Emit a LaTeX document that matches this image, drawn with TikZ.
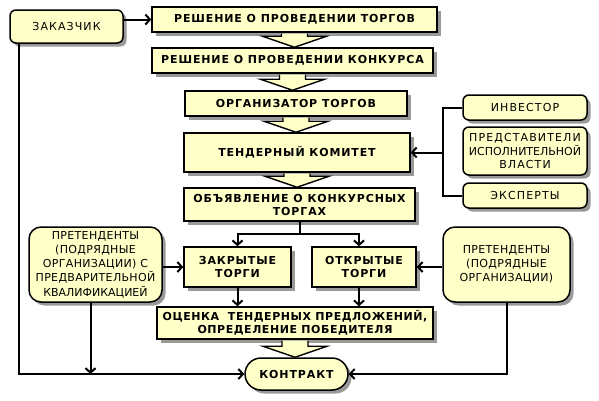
\documentclass[tikz,border=0pt]{standalone}
\usepackage{fontspec}
\setmainfont{DejaVu Sans}
\newfontfamily\nfont[LetterSpace=10]{DejaVu Sans}
\newfontfamily\bfont[LetterSpace=8]{DejaVu Sans}
\newfontfamily\efont[LetterSpace=5]{DejaVu Sans}
\newfontfamily\pfont[LetterSpace=3]{DejaVu Sans}
\newfontfamily\tfont{DejaVu Sans}
\usetikzlibrary{arrows.meta,shadows,calc}
\definecolor{boxfill}{RGB}{255,255,200}
\newcommand\blkarrow[2]{%
  \path[blk] let \p1=(#1.south), \p2=(#2.north) in
    (\x1-13pt,\y1-0.8pt) -- (\x1-13pt,\y2+11pt) -- (\x1-32pt,\y2+11pt) -- (\x1,\y2) --
    (\x1+32pt,\y2+11pt) -- (\x1+13pt,\y2+11pt) -- (\x1+13pt,\y1-0.8pt);}
\begin{document}
\begin{tikzpicture}[x=1pt,y=-1pt,
  base/.style={draw=black, line width=1.5pt, fill=boxfill,
    drop shadow={shadow xshift=3.5pt,shadow yshift=-3.5pt,fill=black,opacity=0.4},
    align=center, inner sep=1pt},
  sq/.style={base, font=\bfont\bfseries\fontsize{11}{13}\selectfont},
  rnd/.style={base, rounded corners=6pt, font=\nfont\fontsize{11}{14}\selectfont},
  big/.style={base, rounded corners=12pt, font=\pfont\fontsize{11}{14.3}\selectfont},
  arr/.style={line width=2pt, -{Straight Barb[length=4.5pt,width=10pt]}},
  ln/.style={line width=2pt},
  blk/.style={draw=black, line width=1.4pt, fill=boxfill, line join=miter}
]
\useasboundingbox (0,0) rectangle (599,400);
% nodes
\node[rnd, minimum width=113pt, minimum height=33pt] (zak) at (66.5,26.5) {ЗАКАЗЧИК};
\node[sq, minimum width=285pt, minimum height=25pt] (b1) at (294.5,19.5) {РЕШЕНИЕ О ПРОВЕДЕНИИ ТОРГОВ};
\node[sq, minimum width=281pt, minimum height=25pt] (b2) at (292.5,60.5) {РЕШЕНИЕ О ПРОВЕДЕНИИ КОНКУРСА};
\node[sq, minimum width=222pt, minimum height=25pt] (b3) at (296,103.5) {ОРГАНИЗАТОР ТОРГОВ};
\node[sq, minimum width=226pt, minimum height=39pt] (b4) at (297,152.5) {ТЕНДЕРНЫЙ КОМИТЕТ};
\node[sq, minimum width=231pt, minimum height=33pt] (b5) at (299.5,204.5) {ОБЪЯВЛЕНИЕ О КОНКУРСНЫХ\\ТОРГАХ};
\node[sq, minimum width=107pt, minimum height=40pt] (cl) at (237.5,267) {ЗАКРЫТЫЕ\\ТОРГИ};
\node[sq, minimum width=104pt, minimum height=40pt] (op) at (364,267) {ОТКРЫТЫЕ\\ТОРГИ};
\node[sq, minimum width=276pt, minimum height=32pt, font=\efont\bfseries\fontsize{11}{13}\selectfont] (est) at (295,323) {ОЦЕНКА~ ТЕНДЕРНЫХ ПРЕДЛОЖЕНИЙ,\\ОПРЕДЕЛЕНИЕ ПОБЕДИТЕЛЯ};
\node[sq, rounded corners=16pt, minimum width=103pt, minimum height=32pt] (kon) at (296.5,374) {КОНТРАКТ};
\node[rnd, minimum width=124pt, minimum height=25pt] (inv) at (525,107.5) {ИНВЕСТОР};
\node[rnd, minimum width=124pt, minimum height=48pt, font=\nfont\fontsize{11}{13.5}\selectfont] (pred) at (525,151) {ПРЕДСТАВИТЕЛИ\\{\tfont ИСПОЛНИТЕЛЬНОЙ}\\ВЛАСТИ};
\node[rnd, minimum width=124pt, minimum height=25pt] (eks) at (525,195.5) {ЭКСПЕРТЫ};
\node[big, minimum width=133pt, minimum height=75pt] (pl) at (95.5,264.5) {ПРЕТЕНДЕНТЫ\\(ПОДРЯДНЫЕ\\ОРГАНИЗАЦИИ) С\\ПРЕДВАРИТЕЛЬНОЙ\\{\tfont КВАЛИФИКАЦИЕЙ}};
\node[big, minimum width=127pt, minimum height=75pt] (pr) at (506.5,264.5) {ПРЕТЕНДЕНТЫ\\(ПОДРЯДНЫЕ\\ОРГАНИЗАЦИИ)};
% block arrows
\blkarrow{b1}{b2}
\blkarrow{b2}{b3}
\blkarrow{b3}{b4}
\blkarrow{b4}{b5}
\blkarrow{est}{kon}
% connectors
\draw[arr] (zak.east |- b1) -- (b1.west);
\coordinate (zakdown) at ($(zak.south west)+(10,0)$);
\draw[arr] (zakdown) |- (kon.west);
\draw[arr] ([xshift=-5pt]pl.south) -- ([xshift=-5pt]pl.south |- kon.west);
\draw[arr] (pr.south) |- (kon.east);
\draw[arr] (pl.east |- cl) -- (cl.west);
\draw[arr] (pr.west |- op) -- (op.east);
\draw[ln] (b5.south) -- ++(0,12) coordinate (split);
\draw[arr] (split) -| (cl.north);
\draw[arr] (split) -| ([xshift=-5pt]op.north);
\draw[arr] (cl.south) -- (cl.south |- est.north);
\draw[arr] ([xshift=-5pt]op.south) -- ([xshift=-5pt]op.south |- est.north);
\draw[ln] (inv.west) -- ++(-19,0) coordinate (brtop) -- (brtop |- eks.west) -- (eks.west);
\draw[arr] (brtop |- b4.east) -- (b4.east);
\end{tikzpicture}
\end{document}
